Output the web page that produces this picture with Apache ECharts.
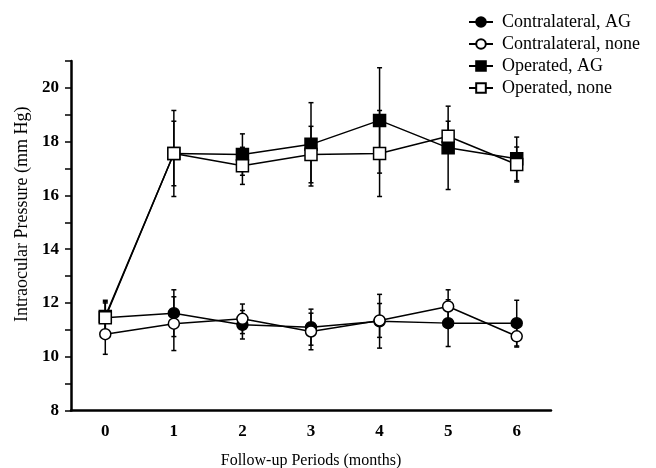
<!DOCTYPE html>
<html>
<head>
<meta charset="utf-8">
<script src="https://cdn.jsdelivr.net/npm/echarts@6/dist/echarts.min.js"></script>
<style>
html,body{margin:0;padding:0;background:#fff;}
#chart{width:656px;height:468px;}
</style>
</head>
<body>
<div id="chart"></div>
<script>
var months = ['0','1','2','3','4','5','6'];
var seriesNames = ['Contralateral, AG','Contralateral, none','Operated, AG','Operated, none'];
var contraAG = [11.45, 11.62, 11.19, 11.10, 11.32, 11.25, 11.25];
var contraAGsd = [0.60, 0.87, 0.53, 0.67, 1.00, 0.87, 0.85];
var contraNone = [10.84, 11.23, 11.41, 10.94, 11.35, 11.87, 10.76];
var contraNoneSd = [0.75, 1.00, 0.55, 0.68, 0.63, 0.62, 0.40];
var opAG = [11.50, 17.56, 17.52, 17.90, 18.79, 17.77, 17.36];
var opAGsd = [0.60, 1.20, 0.77, 1.55, 1.96, 1.55, 0.81];
var opNone = [11.45, 17.56, 17.10, 17.52, 17.56, 18.20, 17.15];
var opNoneSd = [0.55, 1.60, 0.69, 1.05, 1.60, 0.56, 0.65];

var FONT = '"Liberation Serif", "Times New Roman", serif';

function errData(m, s) {
  return m.map(function (v, i) { return [i, v - s[i], v + s[i]]; });
}
function errSeries(m, s) {
  return {
    type: 'custom',
    z: 1,
    silent: true,
    data: errData(m, s),
    encode: { x: 0, y: [1, 2] },
    renderItem: function (params, api) {
      var x = api.value(0);
      var lo = api.coord([x, api.value(1)]);
      var hi = api.coord([x, api.value(2)]);
      var cw = 2.5;
      var st = { stroke: '#000', lineWidth: 1.5 };
      return {
        type: 'group',
        children: [
          { type: 'line', shape: { x1: lo[0], y1: lo[1], x2: hi[0], y2: hi[1] }, style: st },
          { type: 'line', shape: { x1: lo[0] - cw, y1: lo[1], x2: lo[0] + cw, y2: lo[1] }, style: st },
          { type: 'line', shape: { x1: hi[0] - cw, y1: hi[1], x2: hi[0] + cw, y2: hi[1] }, style: st }
        ]
      };
    }
  };
}
function lineSeries(name, data, symbol, size, fill, z) {
  return {
    name: name,
    type: 'line',
    data: data,
    symbol: symbol,
    symbolSize: size,
    showAllSymbol: true,
    z: z,
    lineStyle: { color: '#000', width: 1.5 },
    itemStyle: { color: fill, borderColor: '#000', borderWidth: 1.5 },
    emphasis: { disabled: true }
  };
}

var chart = echarts.init(document.getElementById('chart'), null, { renderer: 'canvas' });
chart.setOption({
  animation: false,
  backgroundColor: '#fff',
  grid: { left: 71, right: 105, top: 61, bottom: 57.5, containLabel: false, outerBoundsMode: 'none' },
  legend: {
    data: seriesNames,
    orient: 'vertical',
    left: 463,
    top: 8,
    itemWidth: 24,
    itemHeight: 12,
    itemGap: 4,
    textStyle: { fontFamily: FONT, fontSize: 18, color: '#000', padding: [0, 0, 0, 4] },
    inactiveColor: '#000'
  },
  xAxis: {
    type: 'category',
    data: months,
    boundaryGap: true,
    name: 'Follow-up Periods (months)',
    nameLocation: 'middle',
    nameGap: 42,
    nameTextStyle: { fontFamily: FONT, fontSize: 16, color: '#000' },
    axisLine: { lineStyle: { color: '#000', width: 2.5 } },
    axisTick: { show: false },
    axisLabel: { fontFamily: FONT, fontSize: 17, fontWeight: 'bold', color: '#000', margin: 13 },
    splitLine: { show: false }
  },
  yAxis: {
    type: 'value',
    min: 8,
    max: 21,
    interval: 1,
    name: 'Intraocular Pressure (mm Hg)',
    nameLocation: 'middle',
    nameGap: 38,
    nameTextStyle: { fontFamily: FONT, fontSize: 18, color: '#000', padding: [0, 0, 0, 43] },
    axisLine: { show: true, lineStyle: { color: '#000', width: 2.5 } },
    axisTick: { show: true, length: 6, lineStyle: { color: '#000', width: 1.5 } },
    axisLabel: {
      fontFamily: FONT, fontSize: 17, fontWeight: 'bold', color: '#000', margin: 12,
      formatter: function (v) { return v % 2 === 0 ? String(v) : ''; }
    },
    splitLine: { show: false }
  },
  series: [
    errSeries(contraAG, contraAGsd),
    errSeries(contraNone, contraNoneSd),
    errSeries(opAG, opAGsd),
    errSeries(opNone, opNoneSd),
    lineSeries(seriesNames[0], contraAG, 'circle', 11, '#000', 3),
    lineSeries(seriesNames[1], contraNone, 'circle', 11, '#fff', 4),
    lineSeries(seriesNames[2], opAG, 'rect', 12, '#000', 5),
    lineSeries(seriesNames[3], opNone, 'rect', 12, '#fff', 6)
  ]
});
</script>
</body>
</html>
